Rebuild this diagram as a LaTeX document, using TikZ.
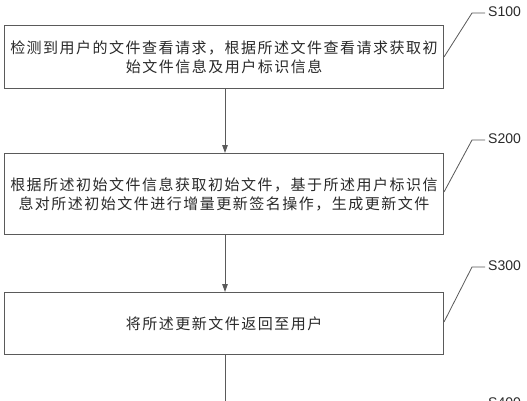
\documentclass[tikz,border=0pt]{standalone}
\usepackage{fontspec}
\setmainfont{Liberation Sans}
\newfontfamily\cjk[LetterSpace=10]{Noto Sans CJK SC}
\usetikzlibrary{arrows.meta}
\definecolor{linegrey}{HTML}{5A5A5A}
\definecolor{textgrey}{HTML}{2A2A2A}
\tikzset{
  stepbox/.style={draw=linegrey, line width=1pt, rectangle, inner sep=0pt,
    minimum width=439pt, text width=439pt, anchor=north west, align=center, text=textgrey,
    font=\cjk\fontsize{15pt}{19pt}\selectfont},
  flow/.style={draw=linegrey, line width=1pt, -{Triangle[length=8pt,width=5.5pt]}},
  leader/.style={draw=linegrey, line width=0.8pt},
  steplabel/.style={anchor=west, inner sep=0pt, text=textgrey,
    font=\fontsize{14pt}{16pt}\selectfont}
}
\begin{document}
\begin{tikzpicture}[x=1pt,y=-1pt]
\useasboundingbox (0,0) rectangle (527,400);
\fill[white] (0,0) rectangle (527,400);
\node[stepbox, minimum height=63pt] (b1) at (4,25)
  {检测到用户的文件查看请求，根据所述文件查看请求获取初\\始文件信息及用户标识信息};
\node[stepbox, minimum height=81pt] (b2) at (4,153)
  {根据所述初始文件信息获取初始文件，基于所述用户标识信\\息对所述初始文件进行增量更新签名操作，生成更新文件};
\node[stepbox, minimum height=62pt] (b3) at (4,292)
  {将所述更新文件返回至用户};
\coordinate (b4top) at (225,460);
\draw[flow] (b1.south -| 225,0) -- (b2.north -| 225,0);
\draw[flow] (b2.south -| 225,0) -- (b3.north -| 225,0);
\draw[flow] (b3.south -| 225,0) -- (b4top);
% labels
\node[steplabel] (s100) at (488,12) {S100};
\node[steplabel] (s200) at (488,139) {S200};
\node[steplabel] (s300) at (488,266) {S300};
\node[steplabel] (s400) at (488,403) {S400};
\coordinate (k1) at (472,13);
\coordinate (k2) at (472,140);
\coordinate (k3) at (472,267);
\coordinate (k4) at (472,404);
\draw[leader] (s100.west) ++(-3,1) -- (k1) -- (b1.east |- 0,57);
\draw[leader] (s200.west) ++(-3,1) -- (k2) -- (b2.east |- 0,192);
\draw[leader] (s300.west) ++(-3,1) -- (k3) -- (b3.east |- 0,322);
\draw[leader] (s400.west) ++(-3,1) -- (k4) -- (443,459);
\end{tikzpicture}
\end{document}
